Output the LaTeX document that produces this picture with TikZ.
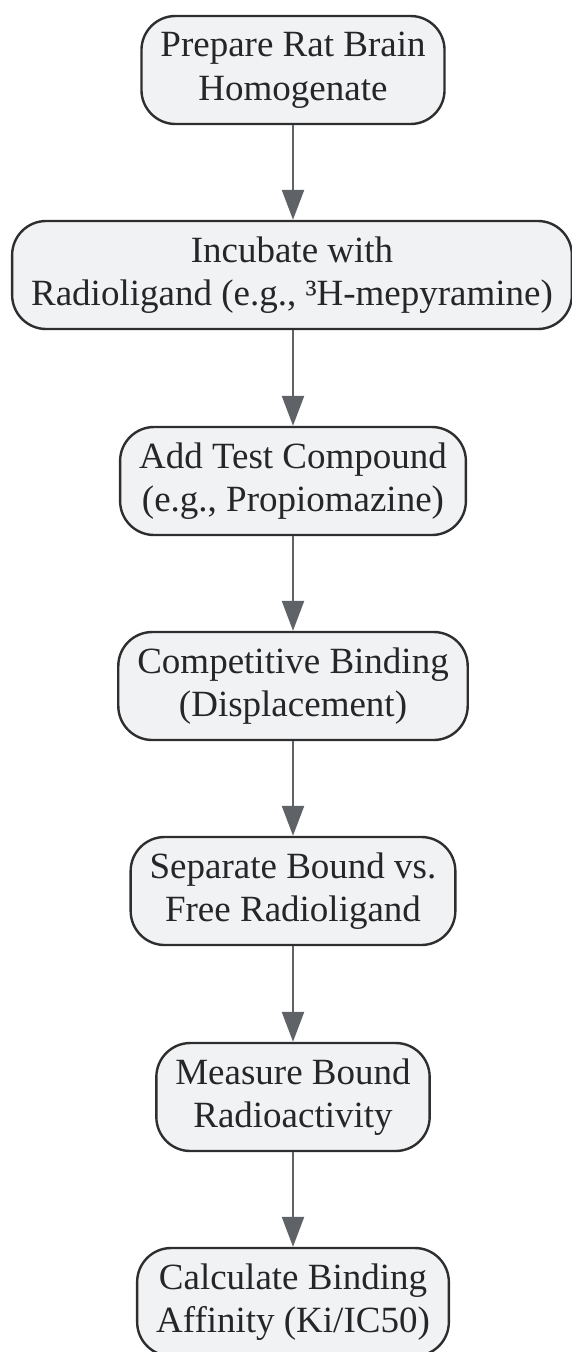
\documentclass[tikz,border=0pt]{standalone}
\usepackage{fontspec}
\setmainfont{Liberation Serif}
\usetikzlibrary{arrows.meta}
\definecolor{stepfill}{HTML}{F1F2F4}
\definecolor{stepline}{HTML}{2E2E2E}
\definecolor{arrowgray}{HTML}{5F6267}
\begin{document}
\begin{tikzpicture}
[x=1pt,y=1pt,
  stepbox/.style={shape=rectangle,rounded corners=34pt,draw=stepline,line width=2.4pt,
    fill=stepfill,align=center,inner xsep=19pt,minimum height=108pt,
    font=\fontsize{37}{43.5}\selectfont,text=black!85},%
  arrowdecorate/.style={-{Triangle[length=30pt,width=22pt]},draw=arrowgray,
    fill=arrowgray,line width=2.4pt}]
\useasboundingbox (0,0) rectangle (572,-1352);
% steps
\node (prep) at (293,-70) [stepbox] {Prepare Rat Brain\\Homogenate};
\node (incub) at (292,-275) [stepbox] {Incubate with\\Radioligand (e.g., ³H-mepyramine)};
\node (add) at (293,-481) [stepbox] {Add Test Compound\\(e.g., Propiomazine)};
\node (comp) at (293,-686) [stepbox] {Competitive Binding\\(Displacement)};
\node (sep) at (293,-891) [stepbox] {Separate Bound vs.\\Free Radioligand};
\node (meas) at (293,-1097) [stepbox] {Measure Bound\\Radioactivity};
\node (calc) at (293,-1302) [stepbox] {Calculate Binding\\Affinity (Ki/IC50)};
% arrows
\path
(prep) edge[arrowdecorate] (prep|-incub.north)
(incub.south-|prep) edge[arrowdecorate] (add)
(add) edge[arrowdecorate] (comp)
(comp) edge[arrowdecorate] (sep)
(sep) edge[arrowdecorate] (meas)
(meas) edge[arrowdecorate] (calc);
\end{tikzpicture}
\end{document}
